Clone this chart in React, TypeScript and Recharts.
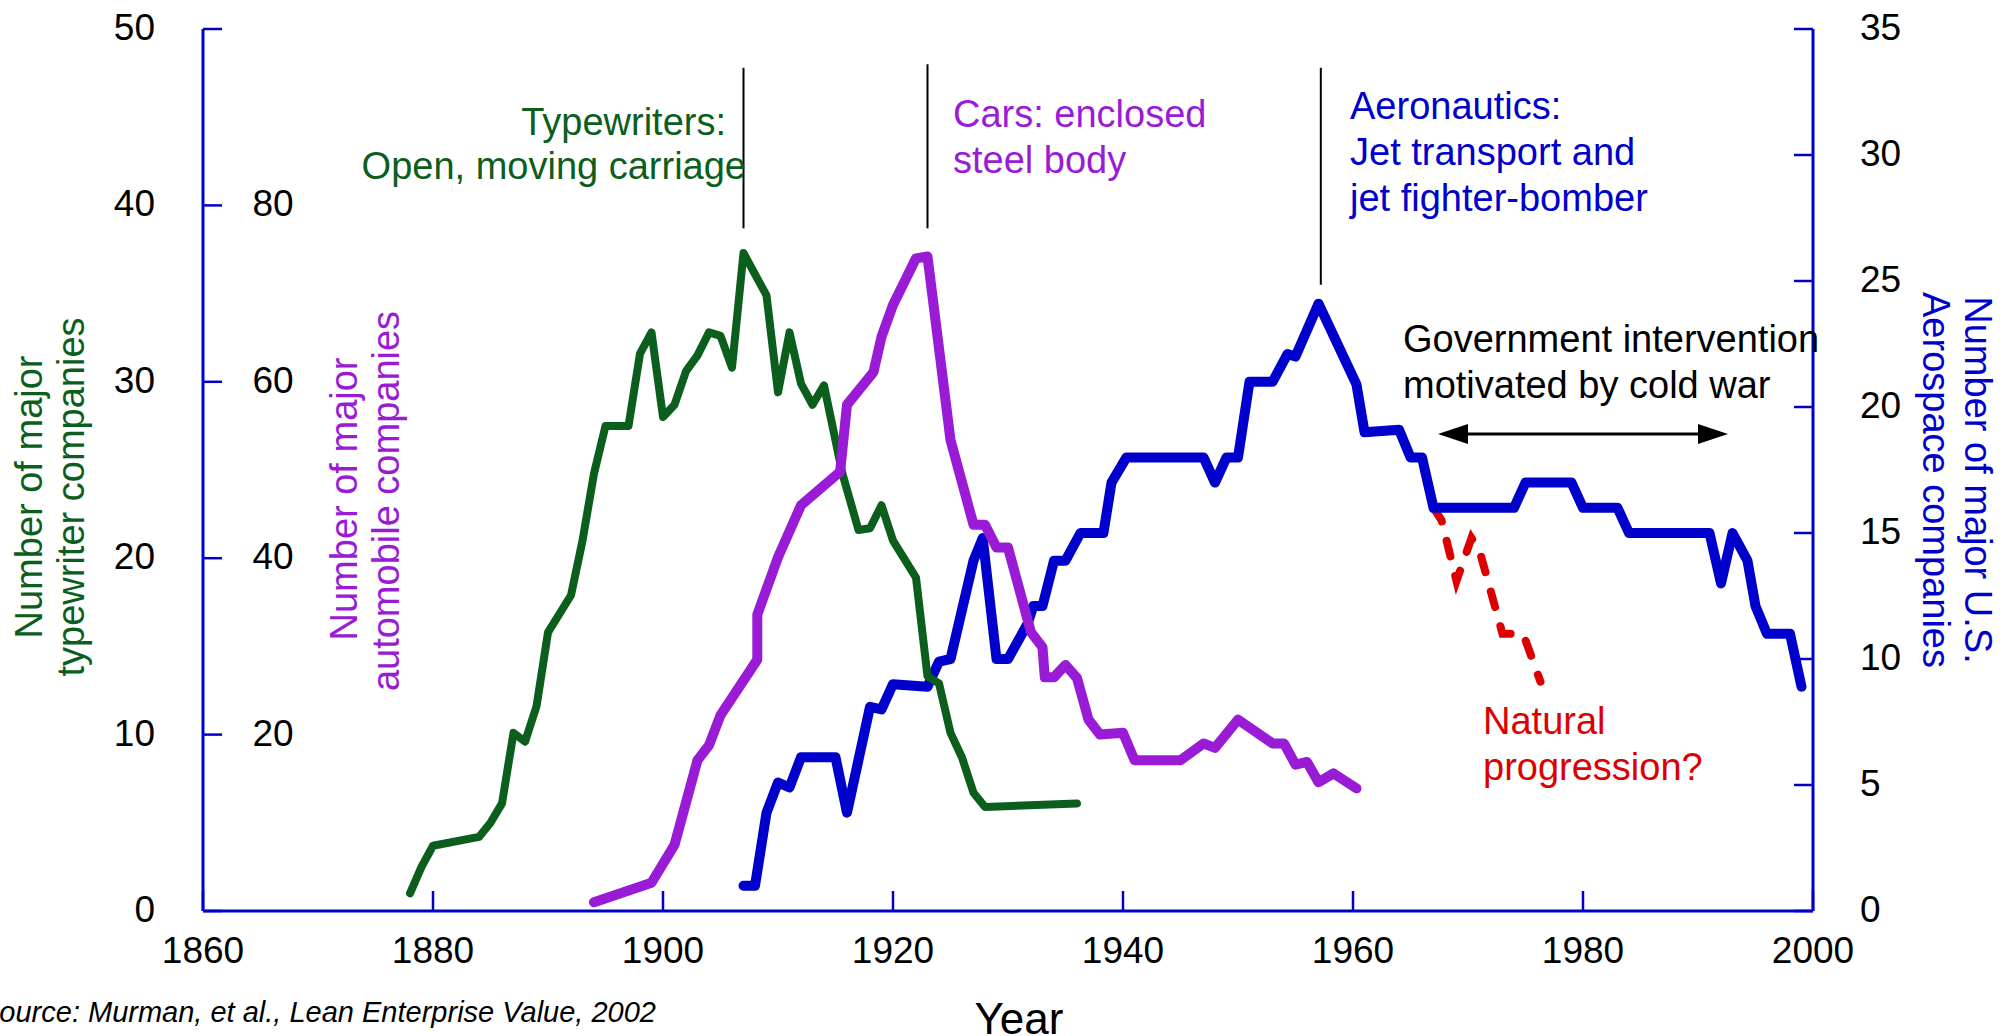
import React from 'react';
import { LineChart, Line, XAxis, YAxis, ReferenceLine } from 'recharts';

// values
const typewriterYears = [1878, 1879, 1880, 1884, 1885, 1886, 1887, 1888, 1889, 1890, 1892, 1893, 1894, 1895, 1897, 1898, 1899, 1900, 1901, 1902, 1903, 1904, 1905, 1906, 1907, 1909, 1910, 1911, 1912, 1913, 1914, 1915.6, 1917, 1918, 1919, 1920, 1922, 1923, 1924, 1925, 1926, 1927, 1928, 1936];
const typewriterCounts = [1.0, 2.5, 3.7, 4.2, 5.0, 6.1, 10.1, 9.6, 11.6, 15.8, 17.9, 21.0, 24.8, 27.5, 27.5, 31.6, 32.8, 28.0, 28.7, 30.6, 31.5, 32.8, 32.6, 30.8, 37.3, 34.9, 29.4, 32.8, 29.9, 28.7, 29.8, 24.8, 21.6, 21.7, 23.0, 21.0, 18.9, 13.3, 12.9, 10.1, 8.7, 6.7, 5.9, 6.1];

const autoYears = [1894, 1899, 1901, 1903, 1904, 1905, 1908.2, 1908.2, 1910, 1912, 1915.4, 1916, 1918.3, 1919, 1920, 1922, 1923, 1925, 1927, 1928, 1929, 1930, 1932, 1933, 1933.2, 1934, 1935, 1936, 1937, 1938, 1940, 1941, 1945, 1947, 1948, 1950, 1953, 1954, 1955, 1956, 1957, 1958.3, 1960.3];
const autoCounts = [1.0, 3.2, 7.5, 17.1, 18.8, 22.2, 28.5, 33.6, 40.1, 46.0, 49.8, 57.4, 61.1, 65.1, 68.7, 74.0, 74.2, 53.4, 43.8, 43.8, 41.2, 41.2, 31.6, 29.9, 26.5, 26.5, 27.9, 26.4, 21.7, 20.0, 20.2, 17.1, 17.1, 19.0, 18.5, 21.7, 19.0, 19.0, 16.6, 16.9, 14.6, 15.6, 13.9];

const aeroYears = [1907, 1908, 1909, 1910, 1911, 1912, 1915, 1916, 1918, 1919, 1920, 1923, 1924, 1925, 1927, 1927.8, 1929, 1930, 1931.7, 1932.2, 1933, 1934, 1935, 1936.3, 1938.3, 1939, 1940.3, 1947, 1948, 1949, 1950, 1951, 1953, 1954.3, 1955, 1957, 1960.3, 1961, 1964, 1965, 1966, 1967, 1974, 1975, 1979, 1980, 1983, 1984, 1991, 1992, 1993, 1994.3, 1995, 1996, 1998, 1999];
const aeroCounts = [1.0, 1.0, 3.9, 5.1, 4.9, 6.1, 6.1, 3.9, 8.1, 8.0, 9.0, 8.9, 9.9, 10.0, 13.9, 14.8, 10.0, 10.0, 11.4, 12.1, 12.1, 13.9, 13.9, 15.0, 15.0, 17.0, 18.0, 18.0, 17.0, 18.0, 18.0, 21.0, 21.0, 22.1, 22.0, 24.1, 20.9, 19.0, 19.1, 18.0, 18.0, 16.0, 16.0, 17.0, 17.0, 16.0, 16.0, 15.0, 15.0, 13.0, 15.0, 13.9, 12.1, 11.0, 11.0, 8.9];

const naturalYears = [1967, 1967.7, 1969, 1970.3, 1971, 1973, 1974.8, 1976.3];
const naturalCounts = [16.0, 15.5, 13.1, 14.8, 14.3, 11.0, 11.0, 9.1];

const yearTicks = [1860, 1880, 1900, 1920, 1940, 1960, 1980, 2000];
const typewriterTicks = [0, 10, 20, 30, 40, 50];
const autoTicks = [20, 40, 60, 80];
const aeroTicks = [0, 5, 10, 15, 20, 25, 30, 35];

// years where a dominant design appeared
const designYears = [1907, 1923, 1957.2];

const FONT = '"Liberation Sans", Arial, Helvetica, sans-serif';
const AXIS = '#0000cc';
const GREEN = '#0b5e1b';
const PURPLE = '#9a1bd6';
const BLUE = '#0000cc';
const RED = '#dd0000';

const toPoints = (years: number[], values: number[]) =>
  years.map((year, i) => ({ year, value: values[i] }));

const BottomTick = (props: any) => {
  const { x, y, payload } = props;
  return (
    <g>
      <line x1={x} x2={x} y1={y} y2={y - 20} stroke={AXIS} strokeWidth={2.5} />
      <text x={x} y={y + 52} textAnchor="middle" fontSize={37} fill="#000" fontFamily={FONT}>
        {payload.value}
      </text>
    </g>
  );
};

const TopTick = (props: any) => {
  const { x, y } = props;
  return <line x1={x} x2={x} y1={y} y2={y + 20} stroke={AXIS} strokeWidth={2.5} />;
};

const LeftTick = (props: any) => {
  const { x, y, payload } = props;
  return (
    <g>
      <line x1={x} x2={x + 19} y1={y} y2={y} stroke={AXIS} strokeWidth={2.5} />
      <text x={x - 48} y={y + 11} textAnchor="end" fontSize={37} fill="#000" fontFamily={FONT}>
        {payload.value}
      </text>
    </g>
  );
};

const AutoTick = (props: any) => {
  const { x, y, payload } = props;
  return (
    <text x={x + 70} y={y + 11} textAnchor="middle" fontSize={37} fill="#000" fontFamily={FONT}>
      {payload.value}
    </text>
  );
};

const RightTick = (props: any) => {
  const { x, y, payload } = props;
  return (
    <g>
      <line x1={x} x2={x - 19} y1={y} y2={y} stroke={AXIS} strokeWidth={2.5} />
      <text x={x + 47} y={y + 11} textAnchor="start" fontSize={37} fill="#000" fontFamily={FONT}>
        {payload.value}
      </text>
    </g>
  );
};

const Notes = () => (
  <svg
    width={2011}
    height={1036}
    style={{ position: 'absolute', left: 0, top: 0, pointerEvents: 'none' }}
    fontFamily={FONT}
    fontSize={38}
  >
    <text fill={GREEN} textAnchor="end">
      <tspan x={726} y={135}>Typewriters:</tspan>
      <tspan x={746} y={179}>Open, moving carriage</tspan>
    </text>
    <text fill={PURPLE}>
      <tspan x={953} y={127}>Cars: enclosed</tspan>
      <tspan x={953} y={173}>steel body</tspan>
    </text>
    <text fill={BLUE}>
      <tspan x={1350} y={119}>Aeronautics:</tspan>
      <tspan x={1350} y={165}>Jet transport and</tspan>
      <tspan x={1350} y={211}>jet fighter-bomber</tspan>
    </text>
    <text fill="#000">
      <tspan x={1403} y={352}>Government intervention</tspan>
      <tspan x={1403} y={398}>motivated by cold war</tspan>
    </text>
    <line x1={1460} x2={1706} y1={434} y2={434} stroke="#000" strokeWidth={3} />
    <polygon points="1438,434 1468,424 1468,444" fill="#000" />
    <polygon points="1728,434 1698,424 1698,444" fill="#000" />
    <text fill={RED}>
      <tspan x={1483} y={734}>Natural</tspan>
      <tspan x={1483} y={780}>progression?</tspan>
    </text>

    <text transform="translate(42,497) rotate(-90)" textAnchor="middle" fill={GREEN}>Number of major</text>
    <text transform="translate(84,497) rotate(-90)" textAnchor="middle" fill={GREEN}>typewriter companies</text>
    <text transform="translate(357,499) rotate(-90)" textAnchor="middle" fill={PURPLE}>Number of major</text>
    <text transform="translate(399,501) rotate(-90)" textAnchor="middle" fill={PURPLE}>automobile companies</text>
    <text transform="translate(1965,480) rotate(90)" textAnchor="middle" fill={BLUE}>Number of major U.S.</text>
    <text transform="translate(1923,480) rotate(90)" textAnchor="middle" fill={BLUE}>Aerospace companies</text>

    <text x={1019} y={1034} textAnchor="middle" fontSize={44} fill="#000">Year</text>
    <text x={-20} y={1022} fontSize={29} fontStyle="italic" fill="#000">
      Source: Murman, et al., Lean Enterprise Value, 2002
    </text>
  </svg>
);

export default function App() {
  return (
    <div style={{ position: 'absolute', left: 0, top: 0, width: 2011, height: 1036, background: '#fff' }}>
      <LineChart width={2011} height={1036} margin={{ top: 29, right: 138, bottom: 65, left: 143 }}>
        <XAxis
          type="number"
          dataKey="year"
          domain={[1860, 2000]}
          allowDataOverflow
          ticks={yearTicks}
          interval={0}
          height={60}
          tickSize={0}
          tickMargin={0}
          tickLine={false}
          axisLine={{ stroke: AXIS, strokeWidth: 3 }}
          tick={BottomTick}
        />
        <XAxis
          xAxisId="top"
          orientation="top"
          type="number"
          dataKey="year"
          domain={[1860, 2000]}
          allowDataOverflow
          ticks={yearTicks}
          interval={0}
          height={0}
          tickSize={0}
          tickMargin={0}
          tickLine={false}
          axisLine={{ stroke: AXIS, strokeWidth: 3 }}
          tick={TopTick}
        />
        <YAxis
          yAxisId="tw"
          domain={[0, 50]}
          allowDataOverflow
          ticks={typewriterTicks}
          interval={0}
          width={60}
          tickSize={0}
          tickMargin={0}
          tickLine={false}
          axisLine={{ stroke: AXIS, strokeWidth: 3 }}
          tick={LeftTick}
        />
        <YAxis
          yAxisId="auto"
          mirror
          domain={[0, 100]}
          allowDataOverflow
          ticks={autoTicks}
          interval={0}
          tickSize={0}
          tickMargin={0}
          tickLine={false}
          axisLine={false}
          tick={AutoTick}
        />
        <YAxis
          yAxisId="aero"
          orientation="right"
          domain={[0, 35]}
          allowDataOverflow
          ticks={aeroTicks}
          interval={0}
          width={60}
          tickSize={0}
          tickMargin={0}
          tickLine={false}
          axisLine={{ stroke: AXIS, strokeWidth: 3 }}
          tick={RightTick}
        />

        <ReferenceLine yAxisId="tw" segment={[{ x: designYears[0], y: 47.8 }, { x: designYears[0], y: 38.7 }]} stroke="#000" strokeWidth={2} />
        <ReferenceLine yAxisId="tw" segment={[{ x: designYears[1], y: 48.0 }, { x: designYears[1], y: 38.7 }]} stroke="#000" strokeWidth={2} />
        <ReferenceLine yAxisId="tw" segment={[{ x: designYears[2], y: 47.8 }, { x: designYears[2], y: 35.5 }]} stroke="#000" strokeWidth={2} />

        <Line
          yAxisId="aero"
          data={toPoints(naturalYears, naturalCounts)}
          dataKey="value"
          type="linear"
          stroke={RED}
          strokeWidth={8}
          strokeDasharray="16 20"
          strokeLinecap="round"
          dot={false}
          isAnimationActive={false}
        />
        <Line
          yAxisId="aero"
          data={toPoints(aeroYears, aeroCounts)}
          dataKey="value"
          type="linear"
          stroke={BLUE}
          strokeWidth={10}
          strokeLinejoin="round"
          strokeLinecap="round"
          dot={false}
          isAnimationActive={false}
        />
        <Line
          yAxisId="tw"
          data={toPoints(typewriterYears, typewriterCounts)}
          dataKey="value"
          type="linear"
          stroke={GREEN}
          strokeWidth={8}
          strokeLinejoin="round"
          strokeLinecap="round"
          dot={false}
          isAnimationActive={false}
        />
        <Line
          yAxisId="auto"
          data={toPoints(autoYears, autoCounts)}
          dataKey="value"
          type="linear"
          stroke={PURPLE}
          strokeWidth={10}
          strokeLinejoin="round"
          strokeLinecap="round"
          dot={false}
          isAnimationActive={false}
        />
      </LineChart>
      <Notes />
    </div>
  );
}
